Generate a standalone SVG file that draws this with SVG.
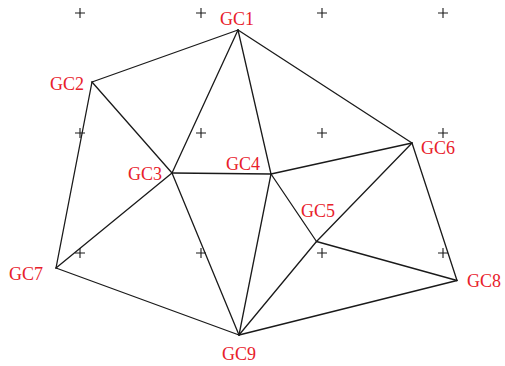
<svg xmlns="http://www.w3.org/2000/svg" width="505" height="366" viewBox="0 0 505 366">
<style>
.e{stroke:#1a1a1a;stroke-width:1.3;fill:none;stroke-linecap:round}
.g{stroke:#1a1a1a;stroke-width:1.1;fill:none}
.t{font-family:"Liberation Serif","Times New Roman",serif;font-size:18px;fill:#e8202a}
</style>
<defs>
<path id="plus" class="g" d="M-5,0H5M0,-5V5"/>
</defs>
<rect width="505" height="366" fill="#fff"/>
<g id="grid">
<use href="#plus" x="80" y="13"/><use href="#plus" x="201" y="13"/><use href="#plus" x="322" y="13"/><use href="#plus" x="443" y="13"/>
<use href="#plus" x="80" y="133"/><use href="#plus" x="201" y="133"/><use href="#plus" x="322" y="133"/><use href="#plus" x="443" y="133"/>
<use href="#plus" x="80" y="253"/><use href="#plus" x="201" y="253"/><use href="#plus" x="322" y="253"/><use href="#plus" x="443" y="253"/>
</g>
<g id="connectors" class="e">
<line x1="238" y1="30" x2="92" y2="82"/>
<line x1="238" y1="30" x2="172" y2="173"/>
<line x1="238" y1="30" x2="271" y2="174"/>
<line x1="238" y1="30" x2="412" y2="143"/>
<line x1="92" y1="82" x2="172" y2="173"/>
<line x1="92" y1="82" x2="56" y2="268"/>
<line x1="172" y1="173" x2="271" y2="174"/>
<line x1="172" y1="173" x2="56" y2="268"/>
<line x1="172" y1="173" x2="239" y2="335"/>
<line x1="271" y1="174" x2="412" y2="143"/>
<line x1="271" y1="174" x2="316.5" y2="241.5"/>
<line x1="271" y1="174" x2="239" y2="335"/>
<line x1="412" y1="143" x2="316.5" y2="241.5"/>
<line x1="412" y1="143" x2="457" y2="280.5"/>
<line x1="316.5" y1="241.5" x2="239" y2="335"/>
<line x1="316.5" y1="241.5" x2="457" y2="280.5"/>
<line x1="457" y1="280.5" x2="239" y2="335"/>
<line x1="56" y1="268" x2="239" y2="335"/>
</g>
<g id="GC1"><text class="t" x="220" y="25">GC1</text></g>
<g id="GC2"><text class="t" x="50" y="90">GC2</text></g>
<g id="GC3"><text class="t" x="128" y="180">GC3</text></g>
<g id="GC4"><text class="t" x="226" y="170">GC4</text></g>
<g id="GC5"><text class="t" x="301" y="217">GC5</text></g>
<g id="GC6"><text class="t" x="421" y="154">GC6</text></g>
<g id="GC7"><text class="t" x="9" y="280">GC7</text></g>
<g id="GC8"><text class="t" x="467" y="287">GC8</text></g>
<g id="GC9"><text class="t" x="222" y="360">GC9</text></g>
</svg>
